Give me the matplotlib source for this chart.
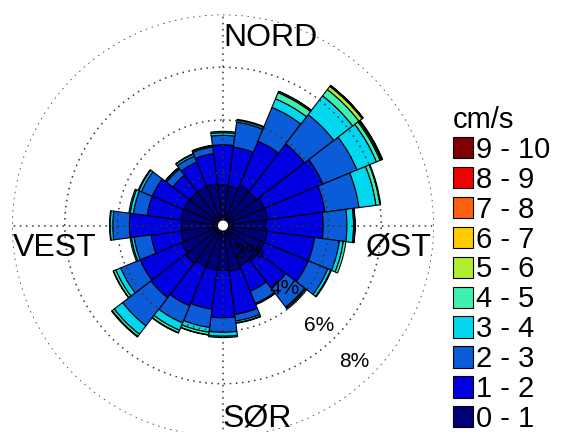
import numpy as np
from matplotlib import pyplot as plt
from matplotlib.patches import Patch

plt.rcParams["font.family"] = ["Liberation Sans", "DejaVu Sans"]

# direction of each sector (degrees from north, clockwise), 15 degree sectors
directions = np.arange(0, 360, 15)

# frequency (%) per speed class and direction
f_0_1 = [1.55, 1.50, 1.64, 1.60, 1.70, 1.70, 1.65, 1.70, 1.70, 1.70, 1.65, 1.75,
         1.70, 1.70, 1.70, 1.80, 1.70, 1.60, 1.58, 1.60, 1.60, 1.60, 1.60, 1.60]
f_1_2 = [1.51, 1.50, 1.82, 2.30, 2.40, 2.20, 2.15, 1.80, 1.80, 1.30, 1.05, 1.65,
         1.80, 1.50, 1.60, 1.65, 1.70, 1.15, 1.97, 1.30, 1.30, 0.80, 1.00, 1.15]
f_2_3 = [0.36, 0.95, 1.39, 1.40, 1.40, 1.30, 0.90, 0.95, 0.80, 0.90, 0.50, 0.25,
         0.55, 0.70, 0.70, 1.35, 0.80, 0.65, 0.63, 0.53, 0.45, 0.30, 0.25, 0.25]
f_3_4 = [0.10, 0.07, 0.35, 0.90, 0.80, 0.65, 0.25, 0.15, 0.12, 0.05, 0.03, 0.07,
         0.15, 0.18, 0.30, 0.40, 0.20, 0.10, 0.10, 0.12, 0.10, 0.05, 0.08, 0.05]
f_4_5 = [0.05, 0.04, 0.25, 0.30, 0.15, 0.15, 0.05, 0.10, 0.03, 0.05, 0.02, 0.02,
         0.05, 0.10, 0.10, 0.10, 0.10, 0.05, 0.02, 0.05, 0.03, 0.02, 0.02, 0.02]
f_5_6 = [0, 0, 0.05, 0.15, 0.05, 0.03, 0.01, 0, 0, 0, 0, 0,
         0, 0.01, 0.02, 0.03, 0.01, 0, 0, 0, 0, 0, 0, 0]
f_6_7 = [0, 0, 0.01, 0.04, 0.03, 0, 0, 0, 0, 0, 0, 0,
         0, 0, 0, 0, 0, 0, 0, 0, 0, 0, 0, 0]
f_7_8 = [0, 0, 0, 0.01, 0.02, 0, 0, 0, 0, 0, 0, 0,
         0, 0, 0, 0, 0, 0, 0, 0, 0, 0, 0, 0]
f_8_9 = [0] * 24
f_9_10 = [0] * 24

speed_labels = ["0 - 1", "1 - 2", "2 - 3", "3 - 4", "4 - 5",
                "5 - 6", "6 - 7", "7 - 8", "8 - 9", "9 - 10"]
speed_colors = ["#00007A", "#0000E0", "#0A5CD8", "#00D8F0", "#40F0B0",
                "#B0F030", "#FFCC00", "#FF6010", "#F00000", "#800000"]
rings = [2, 4, 6, 8]
compass = ["NORD", "ØST", "SØR", "VEST"]

freqs = [f_0_1, f_1_2, f_2_3, f_3_4, f_4_5, f_5_6, f_6_7, f_7_8, f_8_9, f_9_10]

fig = plt.figure(figsize=(5.63, 4.32), dpi=100)
ax = fig.add_axes([12 / 563, (432 - 225.5 - 211) / 432, 422 / 563, 422 / 432],
                  projection="polar")
ax.set_theta_zero_location("N")
ax.set_theta_direction(-1)

theta = np.deg2rad(directions)
width = np.deg2rad(15)
bottom = np.zeros(len(directions))
for f, col in zip(freqs, speed_colors):
    f = np.asarray(f, dtype=float)
    m = f > 0
    if m.any():
        ax.bar(theta[m], f[m], width=width, bottom=bottom[m], color=col,
               edgecolor="black", linewidth=0.8, zorder=1)
    bottom += f

# white hole in the middle
ax.bar(0, 0.19, width=2 * np.pi, bottom=0, color="white", linewidth=0, zorder=4)

ax.set_ylim(0, 8)
ax.set_yticks(rings)
ax.set_yticklabels([])
ax.set_xticks(np.deg2rad([0, 90, 180, 270]))
ax.set_xticklabels([])
ax.grid(True, color="#333333", linestyle=(0, (1, 3)), linewidth=1.1)
ax.set_axisbelow(False)
ax.spines["polar"].set_visible(False)

for r in rings:
    ax.text(np.deg2rad(136), 0.96 * r - 0.5, f"{r}%", fontsize=15,
            ha="center", va="center", zorder=5)

# compass names
ax.text(0.5, 0.9265, compass[0], transform=ax.transAxes, fontsize=23,
        ha="left", va="baseline")
ax.text(0.995, 0.4834, compass[1], transform=ax.transAxes, fontsize=23,
        ha="right", va="top")
ax.text(0.5, 0.079, compass[2], transform=ax.transAxes, fontsize=23,
        ha="left", va="top")
ax.text(0.0024, 0.4834, compass[3], transform=ax.transAxes, fontsize=23,
        ha="left", va="top")

handles = [Patch(facecolor=c, edgecolor="black", linewidth=0.8) for c in speed_colors]
fig.legend(handles[::-1], speed_labels[::-1], loc="upper left",
           bbox_to_anchor=(453 / 563, 1 - 106 / 432), frameon=False,
           title="cm/s", fontsize=21, title_fontsize=21, alignment="left",
           handlelength=0.68, handleheight=0.75, handletextpad=0.12,
           labelspacing=0.065, borderpad=0, borderaxespad=0)

fig.savefig("out.png", dpi=100)
